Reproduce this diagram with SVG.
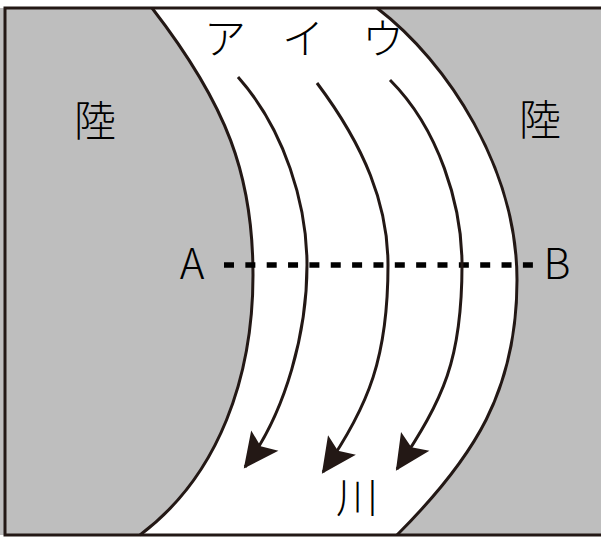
<svg xmlns="http://www.w3.org/2000/svg" width="601" height="537" viewBox="0 0 601 537">
  <style>
    .land { fill: #bebebe; stroke: none; }
    .bank { fill: none; stroke: #231815; stroke-width: 3; }
    .flow { fill: none; stroke: #231815; stroke-width: 3; marker-end: url(#head); }
    .cut { fill: none; stroke: #000000; stroke-width: 5.5; stroke-dasharray: 10 11.35; }
    .frame { fill: none; stroke: #231815; stroke-width: 3; }
    .lbl { font-family: "Noto Sans CJK JP", "Noto Sans", sans-serif; font-size: 42px; font-weight: 300; fill: #000000; text-anchor: middle; }
  </style>
  <defs>
    <marker id="head" markerUnits="userSpaceOnUse" markerWidth="40" markerHeight="40" viewBox="-36 -20 40 40" refX="0" refY="0" orient="auto">
      <path d="M2,0 L-33,-17 L-26,0 L-33,17 Z" fill="#231815"/>
    </marker>
  </defs>

  <g id="land-left">
    <path class="land" d="M0,8 L152,8 C227,105 253,175 253,275 C253,375 220,475 140,535 L0,535 Z"/>
    <text class="lbl" x="95" y="136">陸</text>
  </g>
  <g id="land-right">
    <path class="land" d="M377,8 C449,63 517,170 517,280 C517,390 475,457 397,535 L601,535 L601,8 Z"/>
    <text class="lbl" x="540" y="135">陸</text>
  </g>

  <g id="banks">
    <path class="bank" d="M152,8 C227,105 253,175 253,275 C253,375 220,475 140,535"/>
    <path class="bank" d="M377,8 C449,63 517,170 517,280 C517,390 475,457 397,535"/>
  </g>

  <g id="river">
    <text class="lbl" x="357" y="513">川</text>
  </g>

  <g id="section-line">
    <line class="cut" x1="224" y1="265" x2="533" y2="265"/>
    <text class="lbl" x="192" y="279">A</text>
    <text class="lbl" x="557" y="279">B</text>
  </g>

  <g id="connectors">
    <path id="flow-a" class="flow" d="M238,77 C285,130 307,205 307,265 C307,330 287,411 245,467"/>
    <path id="flow-i" class="flow" d="M317,83 C365,147 388,205 388,265 C388,355 370,405 323,472"/>
    <path id="flow-u" class="flow" d="M390,80 C439,129 462,205 462,265 C462,360 444,398 397,469"/>
  </g>

  <g id="flow-labels">
    <text class="lbl" x="225" y="54">ア</text>
    <text class="lbl" x="303" y="54">イ</text>
    <text class="lbl" x="383" y="54">ウ</text>
  </g>

  <rect class="frame" x="5" y="8" width="600" height="527"/>
</svg>
